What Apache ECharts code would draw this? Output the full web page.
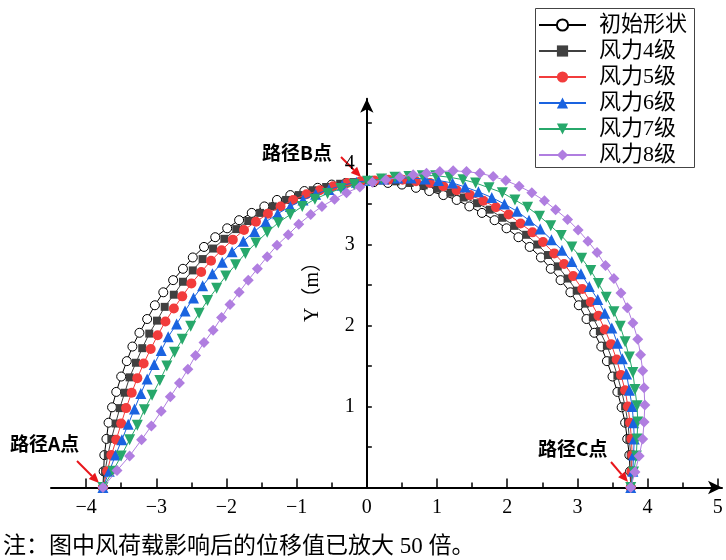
<!DOCTYPE html>
<html><head><meta charset="utf-8">
<script src="https://cdn.jsdelivr.net/npm/echarts@6/dist/echarts.min.js"></script>
<style>html,body{margin:0;padding:0;background:#fff}#c{width:726px;height:560px}</style>
</head><body><div id="c"></div>
<script>
const seriesNames = ['初始形状', '风力4级', '风力5级', '风力6级', '风力7级', '风力8级'];

const initX = [-3.76,-3.75,-3.74,-3.71,-3.68,-3.63,-3.57,-3.50,-3.42,-3.34,-3.24,-3.13,-3.02,-2.90,-2.76,-2.62,-2.48,-2.32,-2.16,-1.99,-1.82,-1.64,-1.46,-1.28,-1.09,-0.89,-0.70,-0.50,-0.30,-0.10,0.10,0.30,0.50,0.70,0.89,1.09,1.28,1.46,1.64,1.82,1.99,2.16,2.32,2.48,2.62,2.76,2.90,3.02,3.13,3.24,3.34,3.42,3.50,3.57,3.63,3.68,3.71,3.74,3.75,3.76];
const initY = [0,0.20,0.40,0.60,0.80,0.99,1.18,1.37,1.56,1.74,1.91,2.08,2.25,2.41,2.56,2.70,2.84,2.97,3.09,3.20,3.30,3.39,3.47,3.55,3.61,3.66,3.70,3.74,3.76,3.77,3.77,3.76,3.74,3.70,3.66,3.61,3.55,3.47,3.39,3.30,3.20,3.09,2.97,2.84,2.70,2.56,2.41,2.25,2.08,1.91,1.74,1.56,1.37,1.18,0.99,0.80,0.60,0.40,0.20,0];

const w4X = [-3.76,-3.73,-3.69,-3.64,-3.58,-3.52,-3.45,-3.38,-3.29,-3.20,-3.10,-2.99,-2.88,-2.75,-2.62,-2.48,-2.34,-2.19,-2.03,-1.86,-1.69,-1.52,-1.34,-1.15,-0.97,-0.77,-0.58,-0.38,-0.19,0.01,0.21,0.41,0.61,0.81,1.00,1.19,1.38,1.57,1.75,1.93,2.10,2.27,2.43,2.58,2.72,2.86,2.99,3.11,3.22,3.32,3.42,3.50,3.57,3.63,3.68,3.72,3.74,3.76,3.77,3.76];
const w4Y = [0,0.20,0.40,0.60,0.79,0.98,1.17,1.36,1.54,1.72,1.90,2.06,2.23,2.38,2.54,2.68,2.82,2.95,3.07,3.19,3.29,3.39,3.47,3.55,3.61,3.67,3.71,3.75,3.77,3.78,3.79,3.78,3.76,3.73,3.69,3.64,3.58,3.51,3.43,3.33,3.23,3.12,3.00,2.87,2.73,2.58,2.43,2.27,2.10,1.93,1.75,1.57,1.38,1.19,1.00,0.80,0.60,0.40,0.20,0];

const w5X = [-3.76,-3.70,-3.64,-3.57,-3.50,-3.43,-3.35,-3.27,-3.18,-3.08,-2.98,-2.87,-2.75,-2.63,-2.50,-2.36,-2.22,-2.07,-1.91,-1.75,-1.58,-1.41,-1.23,-1.05,-0.86,-0.67,-0.48,-0.28,-0.09,0.11,0.31,0.51,0.70,0.90,1.09,1.28,1.47,1.66,1.84,2.02,2.19,2.36,2.51,2.67,2.81,2.94,3.07,3.19,3.30,3.39,3.48,3.56,3.62,3.68,3.72,3.75,3.77,3.78,3.77,3.76];
const w5Y = [0,0.20,0.40,0.59,0.79,0.98,1.17,1.35,1.53,1.71,1.88,2.05,2.21,2.36,2.52,2.66,2.80,2.93,3.06,3.18,3.28,3.38,3.47,3.55,3.62,3.67,3.72,3.76,3.78,3.79,3.80,3.80,3.78,3.76,3.72,3.67,3.61,3.54,3.46,3.37,3.26,3.15,3.03,2.89,2.76,2.61,2.45,2.29,2.12,1.95,1.77,1.58,1.39,1.20,1.00,0.80,0.60,0.40,0.20,0];

const w6X = [-3.76,-3.67,-3.58,-3.49,-3.40,-3.31,-3.22,-3.13,-3.03,-2.93,-2.83,-2.71,-2.59,-2.47,-2.34,-2.20,-2.06,-1.92,-1.76,-1.60,-1.44,-1.27,-1.09,-0.91,-0.73,-0.54,-0.35,-0.15,0.04,0.24,0.44,0.63,0.83,1.02,1.22,1.40,1.59,1.78,1.96,2.14,2.31,2.47,2.63,2.78,2.92,3.05,3.17,3.29,3.39,3.49,3.57,3.64,3.70,3.74,3.78,3.80,3.81,3.80,3.79,3.76];
const w6Y = [0,0.20,0.40,0.59,0.78,0.97,1.16,1.34,1.52,1.69,1.86,2.02,2.18,2.34,2.49,2.64,2.78,2.91,3.04,3.16,3.28,3.38,3.47,3.55,3.62,3.68,3.73,3.77,3.79,3.81,3.82,3.82,3.81,3.79,3.76,3.71,3.65,3.58,3.50,3.41,3.30,3.19,3.06,2.93,2.79,2.64,2.48,2.32,2.15,1.97,1.78,1.59,1.40,1.20,1.00,0.80,0.60,0.40,0.20,0];

const w7X = [-3.76,-3.62,-3.50,-3.38,-3.27,-3.17,-3.06,-2.95,-2.85,-2.74,-2.63,-2.51,-2.39,-2.27,-2.14,-2.01,-1.87,-1.73,-1.58,-1.42,-1.26,-1.09,-0.92,-0.74,-0.56,-0.37,-0.18,0.01,0.21,0.40,0.60,0.79,0.98,1.18,1.37,1.55,1.74,1.93,2.11,2.29,2.46,2.62,2.77,2.92,3.06,3.19,3.30,3.41,3.52,3.61,3.68,3.74,3.79,3.82,3.85,3.86,3.85,3.84,3.80,3.76];
const w7Y = [0,0.20,0.39,0.59,0.77,0.96,1.14,1.32,1.50,1.67,1.83,1.99,2.15,2.31,2.46,2.61,2.75,2.89,3.02,3.15,3.27,3.37,3.47,3.56,3.63,3.69,3.74,3.78,3.81,3.83,3.84,3.85,3.85,3.83,3.80,3.76,3.70,3.64,3.55,3.46,3.35,3.23,3.11,2.97,2.83,2.68,2.52,2.35,2.17,1.99,1.80,1.61,1.42,1.21,1.01,0.81,0.60,0.39,0.19,0];

const w8X = [-3.76,-3.56,-3.38,-3.21,-3.07,-2.93,-2.80,-2.67,-2.55,-2.44,-2.32,-2.19,-2.07,-1.95,-1.82,-1.69,-1.56,-1.42,-1.28,-1.12,-0.97,-0.80,-0.64,-0.46,-0.29,-0.10,0.08,0.27,0.47,0.66,0.85,1.04,1.23,1.42,1.61,1.80,1.98,2.17,2.35,2.53,2.69,2.86,3.01,3.15,3.28,3.40,3.52,3.62,3.71,3.79,3.86,3.90,3.93,3.95,3.96,3.95,3.93,3.88,3.82,3.76];
const w8Y = [0,0.21,0.39,0.59,0.76,0.94,1.12,1.29,1.46,1.63,1.79,1.94,2.10,2.26,2.41,2.56,2.70,2.85,2.99,3.12,3.25,3.37,3.47,3.56,3.64,3.71,3.77,3.80,3.83,3.86,3.88,3.90,3.91,3.90,3.88,3.84,3.79,3.72,3.64,3.54,3.43,3.31,3.18,3.04,2.90,2.74,2.58,2.40,2.22,2.03,1.83,1.64,1.44,1.23,1.02,0.81,0.60,0.39,0.19,0];

const xMajorTicks = [-4,-3,-2,-1,0,1,2,3,4,5];
const xMinorTicks = [-3.5,-2.5,-1.5,-0.5,0.5,1.5,2.5,3.5,4.5];
const yTicks = [0.5,1,1.5,2,2.5,3,3.5,4,4.5];
const yLabels = [1,2,3,4];
const noteText = '注：图中风荷载影响后的位移值已放大 50 倍。';
const yName = 'Y（m）';
const pointLabels = ['路径A点', '路径B点', '路径C点'];

const FONT = '"Liberation Serif", "Noto Sans CJK SC", serif';
const CJK = '"Noto Sans CJK SC", sans-serif';

const xs = [initX, w4X, w5X, w6X, w7X, w8X];
const ys = [initY, w4Y, w5Y, w6Y, w7Y, w8Y];
const colors = ['#000000', '#404040', '#f23c3c', '#1a63e0', '#27a86b', '#b07ee0'];
const symbols = ['circle', 'rect', 'circle', 'triangle', 'triangle', 'diamond'];
const symbolSizes = [9, 8, 10, 11, 11, 11];
const rotates = [0, 0, 0, 0, 180, 0];

const X_MIN = -4.5, X_MAX = 5.06, GRID_LEFT = 51, GRID_RIGHT = 4;
const plotW = 726 - GRID_LEFT - GRID_RIGHT;
const yAxisOffset = -(0 - X_MIN) / (X_MAX - X_MIN) * plotW;

const series = seriesNames.map((name, s) => ({
  name, type: 'line', xAxisIndex: 0, yAxisIndex: 0,
  data: xs[s].map((x, i) => [x, ys[s][i]]),
  symbol: symbols[s], symbolSize: symbolSizes[s], symbolRotate: rotates[s],
  showSymbol: true, showAllSymbol: true,
  lineStyle: { color: colors[s], width: 1 },
  itemStyle: s === 0 ? { color: '#ffffff', borderColor: '#000', borderWidth: 1 } : { color: colors[s] },
  emphasis: { disabled: true }, clip: false, z: 2 + s
}));

function arrow(x1, y1, x2, y2) {
  const a = Math.atan2(y2 - y1, x2 - x1), L = 10, W = 4.5;
  const bx = x2 - L * Math.cos(a), by = y2 - L * Math.sin(a);
  return [
    { type: 'line', shape: { x1, y1, x2: bx, y2: by }, style: { stroke: '#e8161b', lineWidth: 2 } },
    { type: 'polygon', shape: { points: [[x2, y2], [bx + W * Math.sin(a), by - W * Math.cos(a)], [bx - W * Math.sin(a), by + W * Math.cos(a)]] }, style: { fill: '#e8161b' } }
  ];
}

const chart = echarts.init(document.getElementById('c'), null, { renderer: 'canvas' });
chart.setOption({
  animation: false,
  backgroundColor: '#fff',
  grid: { left: GRID_LEFT, right: GRID_RIGHT, top: 98.7, bottom: 72.5, containLabel: false, outerBoundsMode: 'none' },
  legend: {
    orient: 'vertical', left: 535, top: 8, itemWidth: 47, itemHeight: 14, itemGap: 2,
    padding: [5, 8, 5, 3], borderWidth: 0,
    textStyle: { fontSize: 22, fontFamily: FONT, color: '#000', lineHeight: 24, padding: [0, 0, 0, 8] },
    data: seriesNames, selectedMode: false
  },
  xAxis: [{
    type: 'value', min: X_MIN, max: X_MAX,
    axisLine: { onZero: true, lineStyle: { color: '#000', width: 2 }, symbol: ['none', 'arrow'], symbolSize: [10, 14] },
    axisTick: { show: true, inside: true, length: 9, customValues: xMajorTicks, lineStyle: { color: '#000', width: 1.5 } },
    axisLabel: { customValues: xMajorTicks, margin: 10, fontSize: 20, fontFamily: FONT, color: '#000',
      formatter: v => (v < 0 ? '\u2212' + Math.abs(v) : String(v)) },
    splitLine: { show: false }
  }, {
    type: 'value', min: X_MIN, max: X_MAX, position: 'bottom',
    axisLine: { show: false },
    axisTick: { show: true, inside: true, length: 5, customValues: xMinorTicks, lineStyle: { color: '#000', width: 1.5 } },
    axisLabel: { show: false }, splitLine: { show: false }
  }],
  yAxis: {
    type: 'value', min: 0, max: 4.8, position: 'left', offset: yAxisOffset,
    axisLine: { show: true, onZero: false, lineStyle: { color: '#000', width: 2 }, symbol: ['none', 'arrow'], symbolSize: [10, 14] },
    axisTick: { show: true, inside: true, length: 5, customValues: yTicks, lineStyle: { color: '#000', width: 1.5 } },
    axisLabel: { customValues: yLabels, margin: 12, fontSize: 20, fontFamily: FONT, color: '#000' },
    splitLine: { show: false }
  },
  series,
  graphic: [
    { type: 'rect', shape: { x: 535.5, y: 8.5, width: 159, height: 159 }, style: { fill: 'none', stroke: '#444', lineWidth: 1 }, z: 100 },
    { type: 'text', x: 313, y: 287, rotation: Math.PI / 2,
      style: { text: yName, font: '20px ' + FONT, fill: '#000', textAlign: 'center', textVerticalAlign: 'middle' } },
    { type: 'text', x: 3, y: 547,
      style: { text: noteText, font: '23px ' + FONT, fill: '#000', textAlign: 'left', textVerticalAlign: 'middle' } },
    { type: 'text', x: 10, y: 444, style: { text: pointLabels[0], font: 'bold 19px ' + CJK, fill: '#000', textVerticalAlign: 'middle' } },
    { type: 'text', x: 262, y: 153, style: { text: pointLabels[1], font: 'bold 19px ' + CJK, fill: '#000', textVerticalAlign: 'middle' } },
    { type: 'text', x: 538, y: 449, style: { text: pointLabels[2], font: 'bold 19px ' + CJK, fill: '#000', textVerticalAlign: 'middle' } },
    ...arrow(77, 461, 99, 483),
    ...arrow(341, 157, 361, 177),
    ...arrow(611, 462, 628, 482)
  ]
});
</script></body></html>
